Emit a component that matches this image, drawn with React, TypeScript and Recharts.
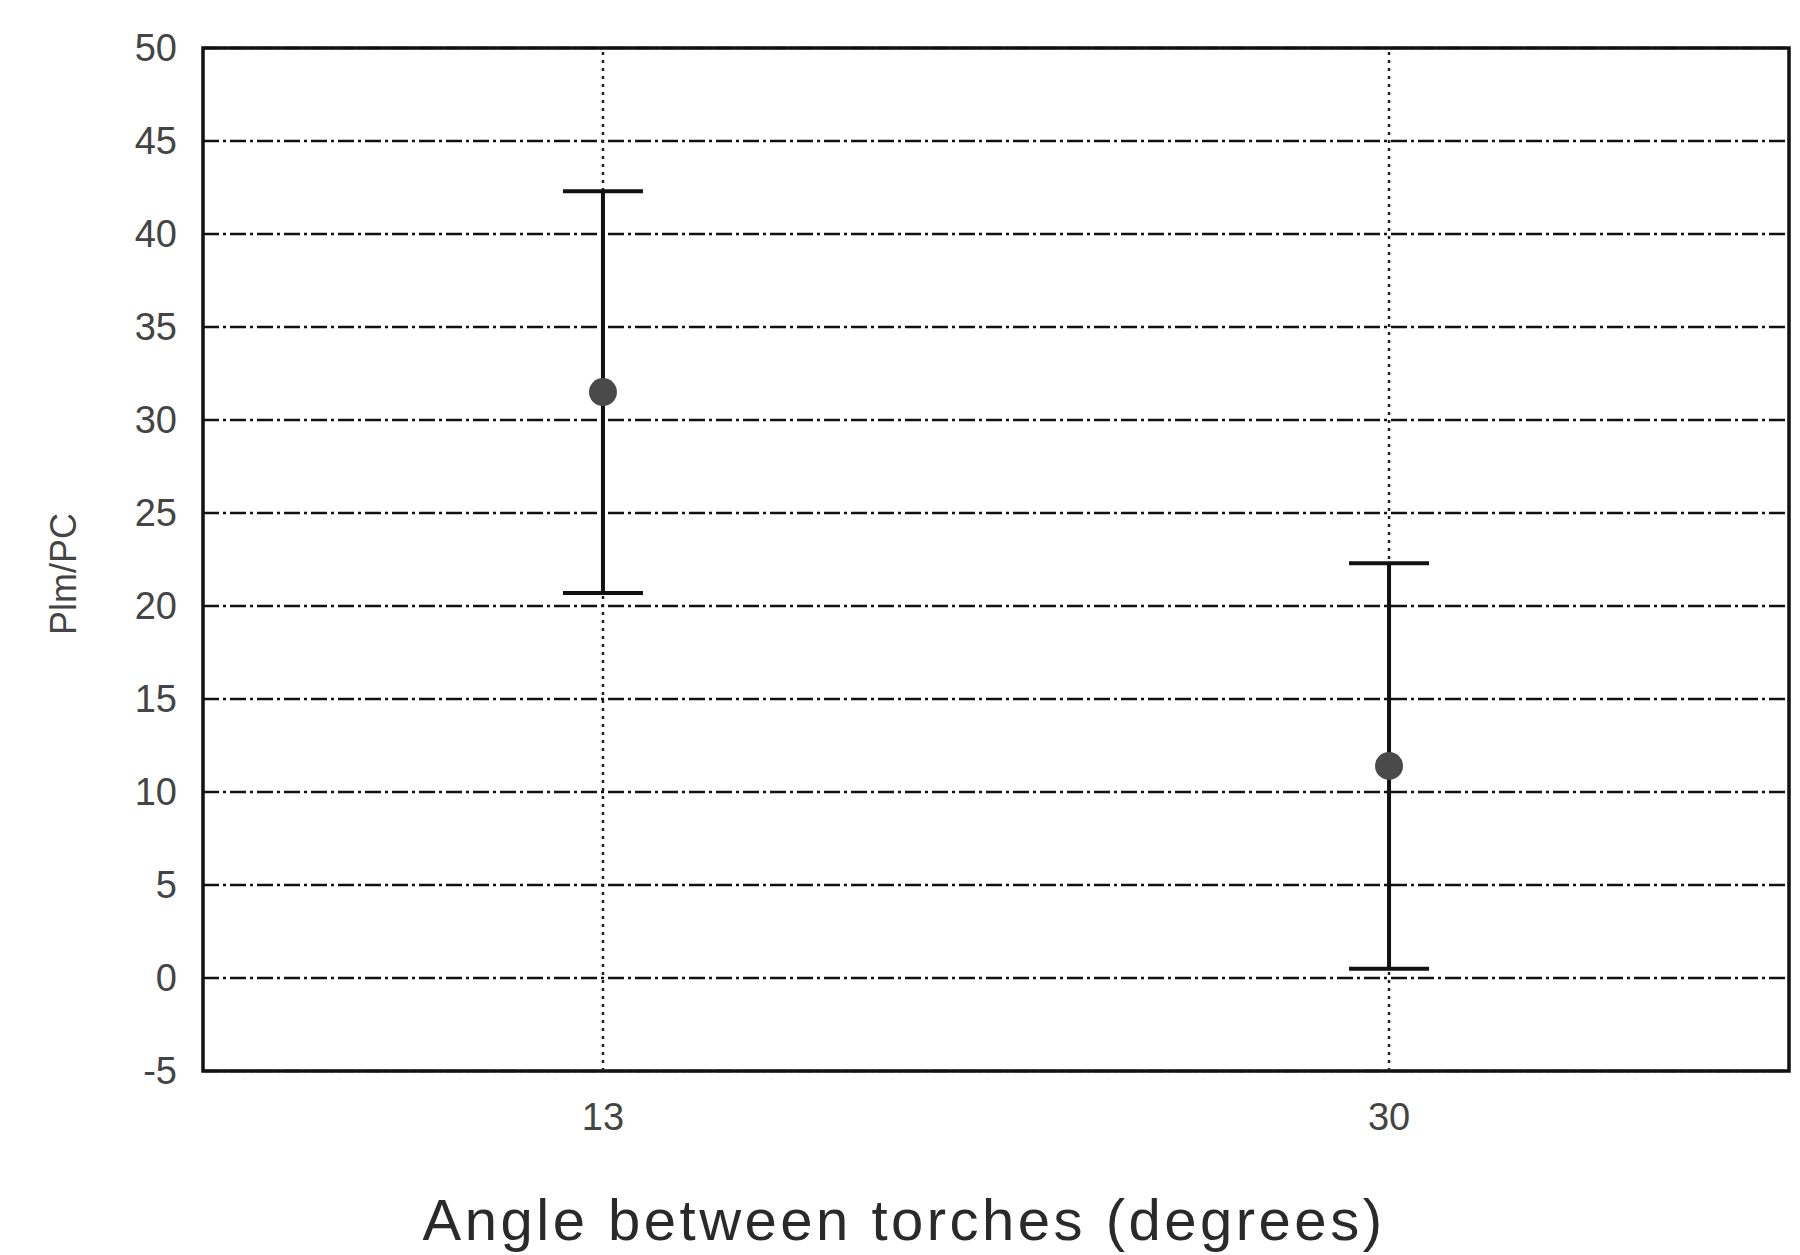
import {
  ComposedChart,
  Scatter,
  ErrorBar,
  XAxis,
  YAxis,
  CartesianGrid,
  ReferenceLine,
  ReferenceArea,
  Label,
} from 'recharts';

// angle between torches (degrees)
const angles = [13, 30];
// Plm/PC mean and the ends of the error bars
const meanRatio = [31.5, 11.4];
const lowerBound = [20.7, 0.5];
const upperBound = [42.3, 22.3];

const yTicks = [-5, 0, 5, 10, 15, 20, 25, 30, 35, 40, 45, 50];
const xDomain: [number, number] = [4.35, 38.65];

const data = angles.map((a, i) => ({
  angle: a,
  ratio: meanRatio[i],
  err: [meanRatio[i] - lowerBound[i], upperBound[i] - meanRatio[i]],
}));

const tickStyle = { fontFamily: 'Liberation Sans, Arial, sans-serif', fontSize: 38, fill: '#444' };

const Dot = (props: any) => <circle cx={props.cx} cy={props.cy} r={14} fill="#4a4a4a" />;

export default function App() {
  return (
    <div style={{ position: 'absolute', left: 0, top: 0, width: 1800, height: 1255, background: '#fff' }}>
      <ComposedChart width={1800} height={1255} data={data} margin={{ top: 48, right: 11, bottom: 0, left: 0 }}>
        <CartesianGrid vertical={false} stroke="#111" strokeWidth={2.5} strokeDasharray="16 4 3 4" />
        <XAxis
          dataKey="angle"
          type="number"
          domain={xDomain}
          ticks={angles}
          height={184}
          tickLine={false}
          tickSize={0}
          tickMargin={32}
          axisLine={false}
          tick={tickStyle}
        >
          <Label
            content={() => (
              <text
                x={904}
                y={1240}
                textAnchor="middle"
                fontFamily="Liberation Sans, Arial, sans-serif"
                fontSize={58}
                fill="#2a2a2a"
                letterSpacing={3.5}
              >
                Angle between torches (degrees)
              </text>
            )}
          />
        </XAxis>
        <YAxis
          type="number"
          domain={[-5, 50]}
          ticks={yTicks}
          width={203}
          tickLine={false}
          tickSize={0}
          tickMargin={26}
          axisLine={false}
          tick={tickStyle}
        >
          <Label
            content={() => (
              <text
                x={76}
                y={574}
                transform="rotate(-90 76 574)"
                textAnchor="middle"
                fontFamily="Liberation Sans, Arial, sans-serif"
                fontSize={36}
                fill="#444"
              >
                Plm/PC
              </text>
            )}
          />
        </YAxis>
        {angles.map((a) => (
          <ReferenceLine key={a} x={a} stroke="#222" strokeWidth={2.5} strokeDasharray="3 5" />
        ))}
        <ReferenceArea
          x1={xDomain[0]}
          x2={xDomain[1]}
          y1={-5}
          y2={50}
          fill="none"
          stroke="#111"
          strokeWidth={3.5}
        />
        <Scatter dataKey="ratio" shape={<Dot />} isAnimationActive={false}>
          <ErrorBar dataKey="err" direction="y" width={40} stroke="#111" strokeWidth={4} />
        </Scatter>
      </ComposedChart>
    </div>
  );
}
